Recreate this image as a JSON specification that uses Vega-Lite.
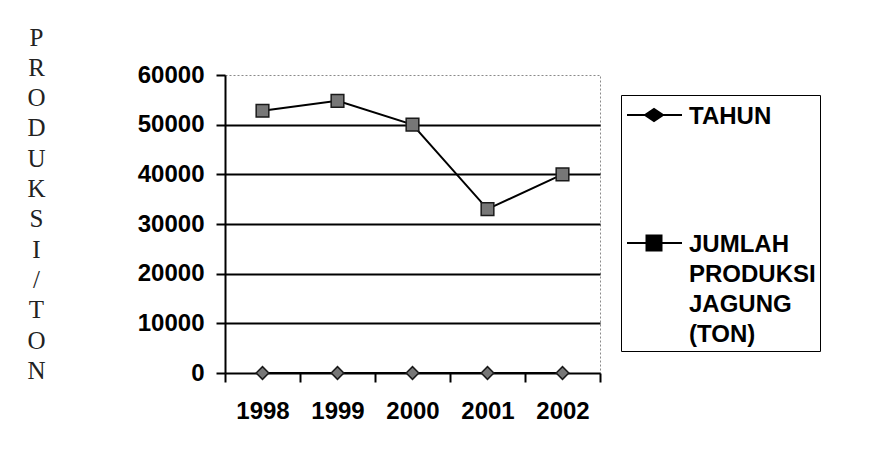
{
  "$schema": "https://vega.github.io/schema/vega-lite/v6.json",
  "width": 375,
  "height": 298,
  "autosize": {"type": "none"},
  "padding": {"left": 225, "top": 75, "right": 287, "bottom": 84},
  "background": "white",
  "config": {
    "view": {"stroke": "#8a8a8a", "strokeDash": [2, 2], "strokeWidth": 1},
    "font": "Liberation Sans",
    "style": {"guide-label": {"lineHeight": 30}}
  },
  "data": {
    "values": [
      {"tahun": "1998", "seri": "TAHUN", "nilai": 0},
      {"tahun": "1999", "seri": "TAHUN", "nilai": 0},
      {"tahun": "2000", "seri": "TAHUN", "nilai": 0},
      {"tahun": "2001", "seri": "TAHUN", "nilai": 0},
      {"tahun": "2002", "seri": "TAHUN", "nilai": 0},
      {"tahun": "1998", "seri": "JUMLAH PRODUKSI JAGUNG (TON)", "nilai": 52800},
      {"tahun": "1999", "seri": "JUMLAH PRODUKSI JAGUNG (TON)", "nilai": 54800},
      {"tahun": "2000", "seri": "JUMLAH PRODUKSI JAGUNG (TON)", "nilai": 50000},
      {"tahun": "2001", "seri": "JUMLAH PRODUKSI JAGUNG (TON)", "nilai": 33000},
      {"tahun": "2002", "seri": "JUMLAH PRODUKSI JAGUNG (TON)", "nilai": 40000}
    ]
  },
  "encoding": {
    "x": {
      "field": "tahun",
      "type": "ordinal",
      "scale": {"type": "band", "paddingInner": 0, "paddingOuter": 0},
      "axis": {
        "title": null,
        "labelAngle": 0,
        "labelFont": "Liberation Sans",
        "labelFontSize": 24,
        "labelFontWeight": "bold",
        "labelColor": "black",
        "labelPadding": 17,
        "labelBaseline": "top",
        "tickBand": "extent",
        "tickSize": 9,
        "tickColor": "black",
        "tickWidth": 2,
        "domainColor": "black",
        "domainWidth": 2,
        "grid": false
      }
    },
    "y": {
      "field": "nilai",
      "type": "quantitative",
      "scale": {"domain": [0, 60000], "nice": false},
      "axis": {
        "values": [0, 10000, 20000, 30000, 40000, 50000, 60000],
        "format": "d",
        "labelFont": "Liberation Sans",
        "labelFontSize": 24,
        "labelFontWeight": "bold",
        "labelColor": "black",
        "labelPadding": 12,
        "tickSize": 9,
        "tickColor": "black",
        "tickWidth": 2,
        "domainColor": "black",
        "domainWidth": 2,
        "grid": true,
        "gridColor": "black",
        "gridWidth": 2,
        "gridOpacity": {"condition": {"test": "datum.value >= 60000 || datum.value <= 0", "value": 0}, "value": 1},
        "title": ["P", "R", "O", "D", "U", "K", "S", "I", "/", "T", "O", "N"],
        "titleAngle": 0,
        "titleFont": "Liberation Serif",
        "titleFontSize": 25,
        "titleFontWeight": "normal",
        "titleColor": "#222",
        "titleLineHeight": 30.3,
        "titleAlign": "center",
        "titleBaseline": "top",
        "titleX": -189,
        "titleY": -50
      }
    }
  },
  "layer": [
    {
      "mark": {"type": "line", "color": "black", "strokeWidth": 2},
      "encoding": {"detail": {"field": "seri"}}
    },
    {
      "mark": {"type": "point", "filled": true, "size": 160, "fill": "#777777", "stroke": "#1a1a1a", "strokeWidth": 1.5, "opacity": 1},
      "encoding": {
        "shape": {
          "field": "seri",
          "scale": {"domain": ["TAHUN", "JUMLAH PRODUKSI JAGUNG (TON)"], "range": ["diamond", "square"]},
          "legend": null
        }
      }
    },
    {
      "mark": {"type": "point", "filled": false, "color": "black", "strokeWidth": 2, "opacity": 0, "size": 2304},
      "encoding": {
        "shape": {
          "field": "seri",
          "scale": {
            "domain": ["TAHUN", "JUMLAH PRODUKSI JAGUNG (TON)"],
            "range": [
              "M-0.9583,-0.375H-0.2083M0.5417,-0.375H1.3333M-0.2083,-0.375L0.1667,-0.625L0.5417,-0.375L0.1667,-0.125ZM-0.1458,-0.375L0.1667,-0.5833L0.4792,-0.375L0.1667,-0.1667ZM-0.0833,-0.375L0.1667,-0.5417L0.4167,-0.375L0.1667,-0.2083ZM-0.0208,-0.375L0.1667,-0.5L0.3542,-0.375L0.1667,-0.25ZM0.0417,-0.375L0.1667,-0.4583L0.2917,-0.375L0.1667,-0.2917ZM0.1042,-0.375L0.1667,-0.4167L0.2292,-0.375L0.1667,-0.3333ZM-0.2083,-0.375H0.5417",
              "M-0.9583,-0.375H-0.1458M0.4792,-0.375H1.3333M-0.1458,-0.6875H0.4792V-0.0625H-0.1458ZM-0.0833,-0.625H0.4167V-0.125H-0.0833ZM-0.0208,-0.5625H0.3542V-0.1875H-0.0208ZM0.0417,-0.5H0.2917V-0.25H0.0417ZM0.1042,-0.4375H0.2292V-0.3125H0.1042ZM0.125,-0.375H0.2083"
            ]
          },
          "legend": {
            "orient": "none",
            "legendX": 396,
            "legendY": 20,
            "title": null,
            "padding": 4,
            "strokeColor": "black",
            "fillColor": "white",
            "symbolSize": 2304,
            "symbolStrokeWidth": 2,
            "symbolStrokeColor": "black",
            "symbolOpacity": 1,
            "labelFont": "Liberation Sans",
            "labelFontSize": 24,
            "labelFontWeight": "bold",
            "labelColor": "black",
            "labelBaseline": "alphabetic",
            "labelOffset": 14,
            "labelLimit": 300,
            "rowPadding": 98,
            "labelExpr": "datum.label == 'TAHUN' ? 'TAHUN' : ['JUMLAH', 'PRODUKSI', 'JAGUNG', '(TON)']"
          }
        }
      }
    }
  ],
  "resolve": {"scale": {"shape": "independent"}}
}
